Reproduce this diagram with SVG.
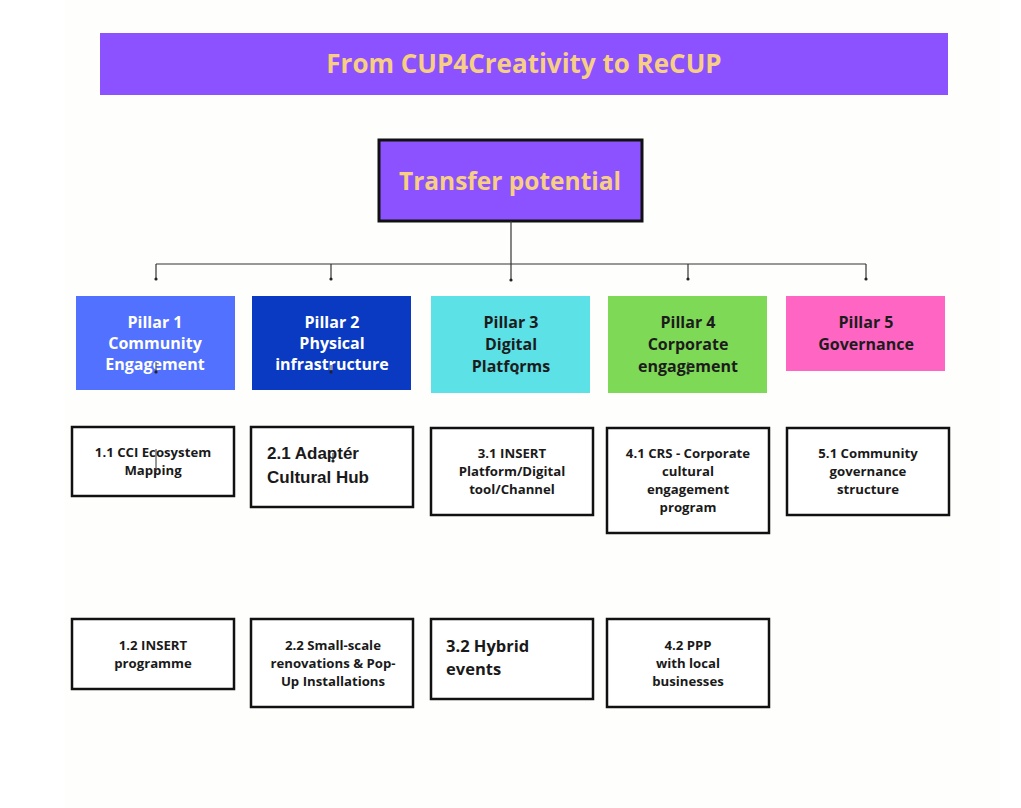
<svg xmlns="http://www.w3.org/2000/svg" width="1021" height="808" viewBox="0 0 1021 808">
<defs>
<style>
.t{font-family:"Open Sans","Noto Sans","Liberation Sans",sans-serif;font-weight:700;text-anchor:middle}
.hd{fill:#f7cf84}
.w{fill:#ffffff;font-size:16px}
.d{fill:#1c1c1c;font-size:16px}
.s{fill:#1a1a1a;font-size:13.2px}
.box{fill:#ffffff;stroke:#111111;stroke-width:2.5}
.ln{stroke:#333333;stroke-width:1.2;fill:none}
.tk{stroke:#333333;stroke-width:1;fill:none}
</style>
<marker id="dot" viewBox="0 0 4 4" refX="2" refY="2" markerWidth="4" markerHeight="4" markerUnits="userSpaceOnUse">
<circle cx="2" cy="2" r="1.6" fill="#222"/>
</marker>
</defs>
<rect x="0" y="0" width="1021" height="808" fill="#ffffff"/>
<rect x="65" y="0" width="935" height="808" fill="#fefefd"/>

<g id="title">
<rect x="100" y="33" width="848" height="62" fill="#8c52ff"/>
<text class="t hd" x="524" y="73" font-size="26">From CUP4Creativity to ReCUP</text>
</g>

<g id="transfer">
<rect x="379" y="140" width="263" height="81" fill="#8c52ff" stroke="#111" stroke-width="3"/>
<text class="t hd" x="510" y="190" font-size="24.5">Transfer potential</text>
</g>

<g id="pillar1">
<rect x="76" y="296" width="159" height="94" fill="#5271ff"/>
<text class="t w" x="155" y="328">Pillar 1</text>
<text class="t w" x="155" y="349">Community</text>
<text class="t w" x="155" y="370">Engagement</text>
</g>
<g id="pillar2">
<rect x="252" y="296" width="159" height="94" fill="#0a3ac2"/>
<text class="t w" x="332" y="328">Pillar 2</text>
<text class="t w" x="332" y="349">Physical</text>
<text class="t w" x="332" y="370">infrastructure</text>
</g>
<g id="pillar3">
<rect x="431" y="296" width="159" height="97" fill="#5ce1e6"/>
<text class="t d" x="511" y="328">Pillar 3</text>
<text class="t d" x="511" y="350">Digital</text>
<text class="t d" x="511" y="372">Platforms</text>
</g>
<g id="pillar4">
<rect x="608" y="296" width="159" height="97" fill="#7ed957"/>
<text class="t d" x="688" y="328">Pillar 4</text>
<text class="t d" x="688" y="350">Corporate</text>
<text class="t d" x="688" y="372">engagement</text>
</g>
<g id="pillar5">
<rect x="786" y="296" width="159" height="75" fill="#ff66c4"/>
<text class="t d" x="866" y="328">Pillar 5</text>
<text class="t d" x="866" y="350">Governance</text>
</g>

<g id="n11">
<rect class="box" x="72" y="427" width="162" height="69"/>
<text class="t s" x="153" y="457">1.1 CCI Ecosystem</text>
<text class="t s" x="153" y="475">Mapping</text>
</g>
<g id="n21">
<rect class="box" x="251" y="427" width="162" height="80"/>
<text x="267" y="459" font-family="'Liberation Sans',Arial,sans-serif" font-weight="700" font-size="17" fill="#1a1a1a">2.1 Adaptér</text>
<text x="267" y="483" font-family="'Liberation Sans',Arial,sans-serif" font-weight="700" font-size="17" fill="#1a1a1a">Cultural Hub</text>
</g>
<g id="n31">
<rect class="box" x="431" y="428" width="162" height="87"/>
<text class="t s" x="512" y="458">3.1 INSERT</text>
<text class="t s" x="512" y="476">Platform/Digital</text>
<text class="t s" x="512" y="494">tool/Channel</text>
</g>
<g id="n41">
<rect class="box" x="607" y="428" width="162" height="105"/>
<text class="t s" x="688" y="458">4.1 CRS - Corporate</text>
<text class="t s" x="688" y="476">cultural</text>
<text class="t s" x="688" y="494">engagement</text>
<text class="t s" x="688" y="512">program</text>
</g>
<g id="n51">
<rect class="box" x="787" y="428" width="162" height="87"/>
<text class="t s" x="868" y="458">5.1 Community</text>
<text class="t s" x="868" y="476">governance</text>
<text class="t s" x="868" y="494">structure</text>
</g>

<g id="n12">
<rect class="box" x="72" y="619" width="162" height="70"/>
<text class="t s" x="153" y="650">1.2 INSERT</text>
<text class="t s" x="153" y="668">programme</text>
</g>
<g id="n22">
<rect class="box" x="251" y="619" width="162" height="88"/>
<text class="t s" x="333" y="650">2.2 Small-scale</text>
<text class="t s" x="333" y="668">renovations &amp; Pop-</text>
<text class="t s" x="333" y="686">Up Installations</text>
</g>
<g id="n32">
<rect class="box" x="431" y="619" width="162" height="80"/>
<text x="446" y="652" font-family="'Open Sans','Noto Sans',sans-serif" font-weight="700" font-size="16.5" fill="#1a1a1a">3.2 Hybrid</text>
<text x="446" y="675" font-family="'Open Sans','Noto Sans',sans-serif" font-weight="700" font-size="16.5" fill="#1a1a1a">events</text>
</g>
<g id="n42">
<rect class="box" x="607" y="619" width="162" height="88"/>
<text class="t s" x="688" y="650">4.2 PPP</text>
<text class="t s" x="688" y="668">with local</text>
<text class="t s" x="688" y="686">businesses</text>
</g>

<g id="connectors">
<path class="ln" d="M511 221 V264"/>
<path class="ln" d="M156 264 H866"/>
<path class="ln" d="M156 264 V279" marker-end="url(#dot)"/>
<path class="ln" d="M331 264 V279" marker-end="url(#dot)"/>
<path class="ln" d="M511 264 V280" marker-end="url(#dot)"/>
<path class="ln" d="M688 264 V279" marker-end="url(#dot)"/>
<path class="ln" d="M866 264 V279" marker-end="url(#dot)"/>
<path class="tk" d="M156 362 V372" marker-end="url(#dot)"/>
<path class="tk" d="M331 365 V372" marker-end="url(#dot)"/>
<path class="tk" d="M517 366 V373" marker-end="url(#dot)"/>
<path class="tk" d="M688 362 V373" marker-end="url(#dot)"/>
<path class="tk" d="M156 449 V472"/>
<path class="tk" d="M333 453 V461" marker-end="url(#dot)"/>
</g>
</svg>
